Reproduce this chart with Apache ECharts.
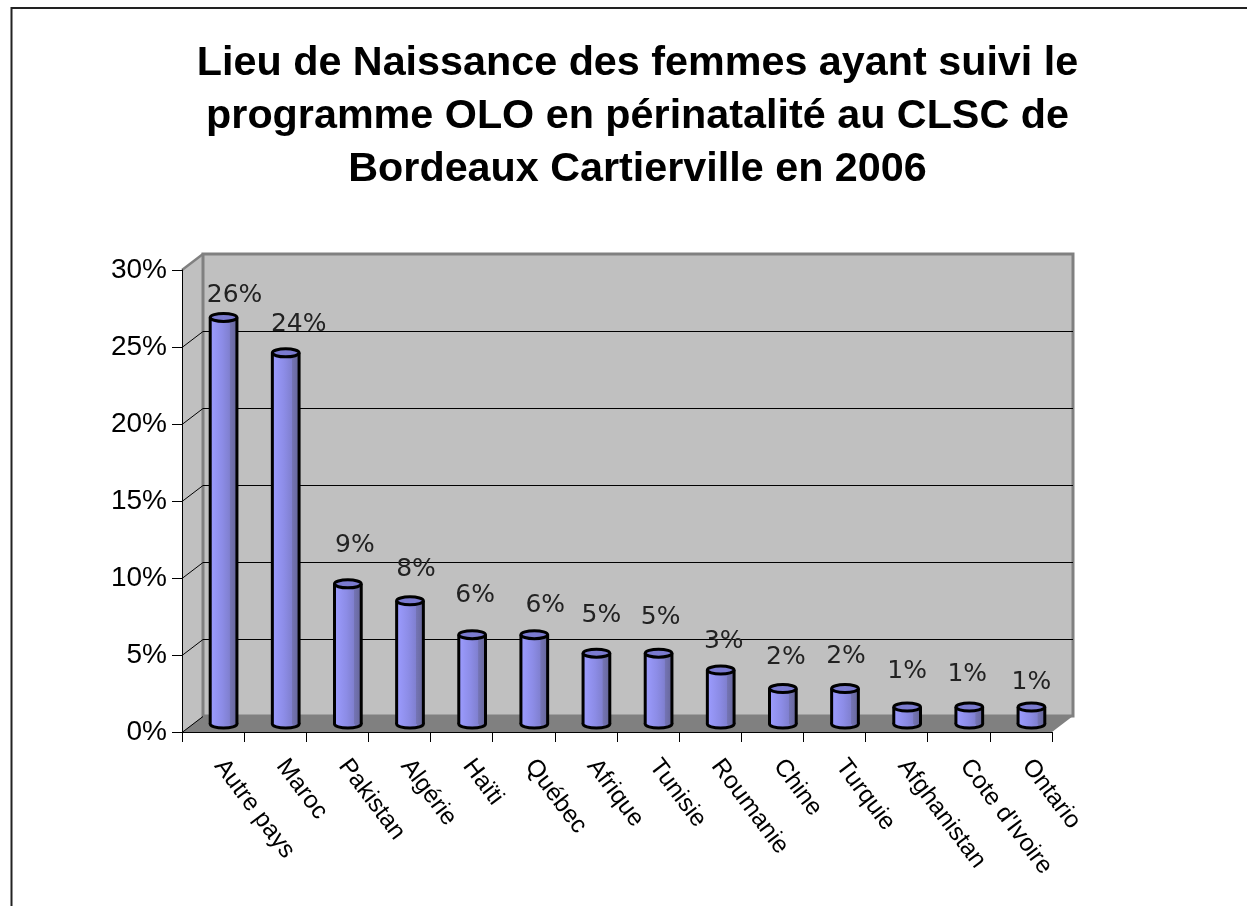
<!DOCTYPE html>
<html>
<head>
<meta charset="utf-8">
<title>Lieu de Naissance</title>
<script src="https://cdn.jsdelivr.net/npm/echarts@6/dist/echarts.min.js"></script>
<style>
  html, body { margin: 0; padding: 0; background: #fff; }
  #chart { width: 1247px; height: 906px; }
</style>
</head>
<body>
<div id="chart"></div>
<script>
const titleLines = [
  'Lieu de Naissance des femmes ayant suivi le',
  'programme OLO en périnatalité au CLSC de',
  'Bordeaux Cartierville en 2006'
];
const categories = ['Autre pays', 'Maroc', 'Pakistan', 'Algérie', 'Haïti', 'Québec', 'Afrique', 'Tunisie', 'Roumanie', 'Chine', 'Turquie', 'Afghanistan', "Cote d'Ivoire", 'Ontario'];
const values = [26.4, 24.1, 9.1, 8.0, 5.8, 5.8, 4.6, 4.6, 3.5, 2.3, 2.3, 1.1, 1.1, 1.1];
const valueLabels = ['26%', '24%', '9%', '8%', '6%', '6%', '5%', '5%', '3%', '2%', '2%', '1%', '1%', '1%'];
const yTicks = [0, 5, 10, 15, 20, 25, 30];

// hand placed data labels in the original, shift from the top of each cylinder
const labelShift = [[11, -22], [13, -28], [7, -38], [6, -31], [3, -39], [11, -29], [5, -38], [2, -36], [3, -29], [3, -31], [1, -32], [0, -36], [-2, -33], [0, -25]];

// 3d box offset of the back wall
const depthX = 21;
const depthY = -16;

const chart = echarts.init(document.getElementById('chart'));

function renderBox(params, api) {
  const cs = params.coordSys;
  const left = cs.x, right = cs.x + cs.width, top = cs.y, bottom = cs.y + cs.height;
  const children = [
    { type: 'polygon', shape: { points: [[left, top], [left + depthX, top + depthY], [left + depthX, bottom + depthY], [left, bottom]] },
      style: { fill: '#c0c0c0' } },
    { type: 'rect', shape: { x: left + depthX, y: top + depthY, width: cs.width, height: cs.height },
      style: { fill: '#c0c0c0', stroke: '#808080', lineWidth: 3 } },
    { type: 'line', shape: { x1: left, y1: top, x2: left + depthX, y2: top + depthY },
      style: { stroke: '#808080', lineWidth: 2.5 } },
    { type: 'polygon', shape: { points: [[left, bottom], [left + depthX, bottom + depthY], [right + depthX, bottom + depthY], [right, bottom]] },
      style: { fill: '#808080' } }
  ];
  yTicks.forEach(function (t) {
    const y = Math.round(api.coord([0, t])[1]) + 0.5;
    if (t < 30) {
      children.push({ type: 'line', shape: { x1: left, y1: y, x2: left + depthX, y2: y + depthY }, style: { stroke: '#000', lineWidth: 1 } });
    }
    if (t > 0 && t < 30) {
      children.push({ type: 'line', shape: { x1: left + depthX, y1: y + depthY, x2: right + depthX, y2: y + depthY }, style: { stroke: '#000', lineWidth: 1 } });
    }
  });
  return { type: 'group', children: children };
}

function renderCylinder(params, api) {
  const i = api.value(0);
  const top = api.coord([i, api.value(1)]);
  const base = api.coord([i, 0]);
  const w = api.size([1, 0])[0] * 0.43;
  const cx = top[0] + depthX / 2;
  const yTop = top[1] + depthY / 2;
  const yBase = base[1] + depthY / 2;
  const rx = w / 2, ry = 4;
  const grad = new echarts.graphic.LinearGradient(0, 0, 1, 0, [
    { offset: 0, color: '#9c9cff' },
    { offset: 0.45, color: '#8c8ce6' },
    { offset: 0.72, color: '#8080d0' },
    { offset: 0.74, color: '#7474b4' },
    { offset: 1, color: '#666699' }
  ]);
  const edge = { stroke: '#000', lineWidth: 3 };
  const shift = labelShift[i];
  return {
    type: 'group',
    children: [
      { type: 'ellipse', shape: { cx: cx, cy: yBase, rx: rx, ry: ry }, style: Object.assign({ fill: grad }, edge) },
      { type: 'rect', shape: { x: cx - rx, y: yTop, width: w, height: yBase - yTop }, style: { fill: grad } },
      { type: 'line', shape: { x1: cx - rx, y1: yTop, x2: cx - rx, y2: yBase }, style: edge },
      { type: 'line', shape: { x1: cx + rx, y1: yTop, x2: cx + rx, y2: yBase }, style: edge },
      { type: 'ellipse', shape: { cx: cx, cy: yTop, rx: rx, ry: ry }, style: Object.assign({ fill: '#7b7bd0' }, edge) },
      { type: 'text', style: {
          x: cx + shift[0], y: yTop + shift[1],
          text: valueLabels[i], fill: '#222',
          font: '25px "DejaVu Sans"', align: 'center', verticalAlign: 'middle'
        } }
    ]
  };
}

chart.setOption({
  animation: false,
  backgroundColor: '#fff',
  title: {
    text: titleLines.join('\n'),
    left: 632.5, top: 32, textAlign: 'center',
    textStyle: { fontFamily: 'Liberation Sans', fontSize: 41.3, fontWeight: 'bold', color: '#000', lineHeight: 53 }
  },
  graphic: [{
    type: 'polyline', silent: true,
    shape: { points: [[11.5, 906], [11.5, 8], [1247, 8]] },
    style: { stroke: '#222', lineWidth: 2, fill: null }
  }],
  grid: { left: 182, right: 195, top: 270, bottom: 174 },
  xAxis: {
    type: 'category',
    data: categories,
    z: 10,
    axisLine: { lineStyle: { color: '#000', width: 1 } },
    axisTick: { show: true, alignWithLabel: false, length: 10, lineStyle: { color: '#000', width: 1 } },
    axisLabel: { interval: 0, rotate: -53, margin: 22, padding: [0, 0, 0, 10], color: '#000', fontFamily: 'Liberation Sans', fontSize: 24.5 }
  },
  yAxis: {
    type: 'value',
    min: 0, max: 30, interval: 5,
    z: 10,
    axisLine: { show: true, lineStyle: { color: '#000', width: 1 } },
    axisTick: { show: true, length: 10, lineStyle: { color: '#000', width: 1 } },
    splitLine: { show: false },
    axisLabel: { margin: 15, color: '#000', fontFamily: 'Liberation Sans', fontSize: 28, formatter: '{value}%' }
  },
  series: [
    { type: 'custom', silent: true, data: [[0, 0]], renderItem: renderBox, clip: false, z: 1, encode: { x: 0, y: 1 } },
    { type: 'custom', silent: true, data: values.map(function (v, i) { return [i, v]; }), renderItem: renderCylinder, clip: false, z: 3, encode: { x: 0, y: 1 } }
  ]
});
</script>
</body>
</html>
